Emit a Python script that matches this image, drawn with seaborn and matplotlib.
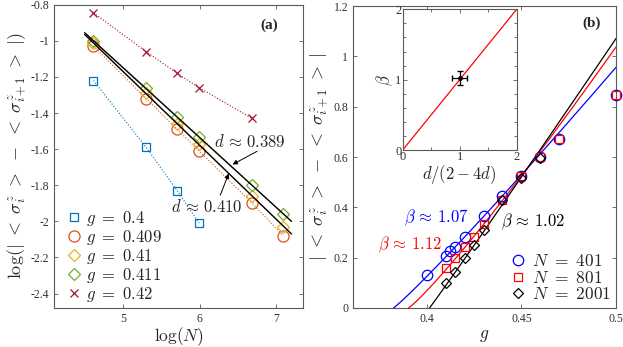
import numpy as np
import pandas as pd
import matplotlib
matplotlib.use("Agg")
import matplotlib.pyplot as plt
from matplotlib.lines import Line2D
import seaborn as sns

# panel (a): log(N) vs log of the staggered magnetisation difference
log_n = [4.615, 5.303, 5.707, 5.994, 6.686, 7.091]
g_labels_a = ["0.4", "0.409", "0.41", "0.411", "0.42"]
y_g400 = [-1.22, -1.59, -1.83, -2.01]
y_g409 = [-1.03, -1.32, -1.49, -1.61, -1.90, -2.08]
y_g410 = [-1.01, -1.29, -1.46, -1.57, -1.86, -2.03]
y_g411 = [-1.00, -1.26, -1.42, -1.53, -1.80, -1.96]
y_g420 = [-0.845, -1.06, -1.18, -1.26, -1.43]
fit_x = [4.5, 7.2]
fit_d389 = [-0.955, -2.000]
fit_d410 = [-0.965, -2.070]

# panel (b): order parameter vs g
g_401 = [0.40, 0.41, 0.4125, 0.415, 0.42, 0.43, 0.44, 0.45, 0.46, 0.47, 0.50]
m_401 = [0.132, 0.206, 0.225, 0.244, 0.282, 0.366, 0.447, 0.526, 0.60, 0.672, 0.845]
g_801 = [0.41, 0.415, 0.42, 0.425, 0.43, 0.44, 0.45, 0.46, 0.47, 0.50]
m_801 = [0.158, 0.198, 0.242, 0.284, 0.335, 0.431, 0.524, 0.60, 0.672, 0.845]
g_2001 = [0.41, 0.415, 0.42, 0.425, 0.43, 0.44, 0.45, 0.46]
m_2001 = [0.101, 0.145, 0.198, 0.251, 0.311, 0.431, 0.515, 0.597]
fit_gc = [0.3824, 0.3903, 0.4014]
fit_amp = [9.45, 12.33, 11.38]
fit_beta = [1.07, 1.12, 1.02]

# inset
inset_x = [1.0]
inset_y = [1.02]
inset_xerr = [0.13]
inset_yerr = [0.10]

sns.set_style("ticks")
plt.rcParams["font.family"] = ["Liberation Serif", "DejaVu Serif"]
plt.rcParams["mathtext.fontset"] = "cm"
plt.rcParams["xtick.direction"] = "in"
plt.rcParams["ytick.direction"] = "in"

spine_c = "#5a5a5a"
tick_c = "#303030"

fig = plt.figure(figsize=(6.23, 3.47), dpi=100)
ax1 = fig.add_axes([0.0867, 0.1124, 0.3997, 0.874])
ax2 = fig.add_axes([0.5666, 0.1124, 0.4222, 0.870])
ax3 = fig.add_axes([0.6464, 0.5677, 0.1830, 0.4055])


def style(ax, fs=8.5):
    for s in ax.spines.values():
        s.set_color(spine_c)
        s.set_linewidth(0.8)
    ax.tick_params(which="both", top=True, right=True, color=spine_c,
                   labelcolor=tick_c, labelsize=fs, length=3, width=0.6)


# ---- panel (a)
mat_cols = ["#0072BD", "#D95319", "#EDB120", "#77AC30", "#A2142F"]
series_a = [y_g400, y_g409, y_g410, y_g411, y_g420]
marks_a = ["s", "o", "D", "D", "x"]
sizes_a = [5.5, 8, 6, 6, 6]
handles_a = []
for yv, c, m, ms, lab in zip(series_a, mat_cols, marks_a, sizes_a, g_labels_a):
    xs = log_n[:len(yv)]
    sns.lineplot(x=xs, y=yv, ax=ax1, color=c, linestyle=":", lw=0.8,
                 marker=m, ms=ms, mfc="none", mec=c, mew=0.9)
    handles_a.append(Line2D([], [], ls="none", marker=m, ms=ms, mfc="none",
                            mec=c, mew=0.9, label=rf"$g\ =\ {lab}$"))
ax1.plot(fit_x, fit_d389, color="black", lw=1.0)
ax1.plot(fit_x, fit_d410, color="black", lw=1.0)
ax1.text(6.66, -1.566, r"$d\,\approx\,0.389$", fontsize=12, ha="center", va="center")
ax1.text(6.10, -1.925, r"$d\,\approx\,0.410$", fontsize=12, ha="center", va="center")
arrow = dict(arrowstyle="-|>", color="black", lw=0.7, mutation_scale=7,
             shrinkA=0, shrinkB=0)
ax1.annotate("", xy=(6.43, -1.685), xytext=(6.75, -1.612), arrowprops=arrow)
ax1.annotate("", xy=(6.38, -1.735), xytext=(6.27, -1.855), arrowprops=arrow)
ax1.text(0.863, 0.933, "(a)", transform=ax1.transAxes, fontsize=11,
         fontweight="bold", ha="center", va="center")
ax1.set_xlim(4.1, 7.35)
ax1.set_ylim(-2.48, -0.8)
ax1.set_xticks([5, 6, 7])
ax1.set_xticklabels(["5", "6", "7"])
yt = [-0.8, -1.0, -1.2, -1.4, -1.6, -1.8, -2.0, -2.2, -2.4]
ax1.set_yticks(yt)
ax1.set_yticklabels(["-0.8", "-1", "-1.2", "-1.4", "-1.6", "-1.8", "-2", "-2.2", "-2.4"])
ax1.set_xlabel(r"$\log(N)$", fontsize=12.5, labelpad=0)
ax1.set_ylabel(r"$\log(|\ <\ \sigma_i^z\ >\ -\ <\ \sigma_{i+1}^z\ >\ |)$",
               fontsize=13, labelpad=2)
style(ax1)
ax1.legend(handles=handles_a, loc="lower left", bbox_to_anchor=(0.03, 0.0),
           frameon=False, fontsize=12, handlelength=1.0, handletextpad=0.2,
           labelspacing=0.0, borderaxespad=0.1, borderpad=0.15)

# ---- panel (b)
cols_b = ["blue", "red", "black"]
data_b = [(g_401, m_401, "o", 7.5, "401"), (g_801, m_801, "s", 5.5, "801"),
          (g_2001, m_2001, "D", 5.0, "2001")]
handles_b = []
for (gx, my, m, ms, lab), c in zip(data_b, cols_b):
    sns.lineplot(x=gx, y=my, ax=ax2, ls="none", marker=m, ms=ms, mfc="none",
                 mec=c, mew=0.9, clip_on=False, zorder=3)
    handles_b.append(Line2D([], [], ls="none", marker=m, ms=ms, mfc="none",
                            mec=c, mew=0.9, label=rf"$N\ =\ {lab}$"))
for gc, amp, b, c in zip(fit_gc, fit_amp, fit_beta, cols_b):
    gg = np.linspace(gc, 0.5, 200)
    curve = pd.DataFrame({"g": gg, "m": amp * (gg - gc) ** b})
    sns.lineplot(data=curve, x="g", y="m", ax=ax2, color=c, lw=0.9)
ax2.text(0.4049, 0.359, r"$\beta\,\approx\,1.07$", color="blue", fontsize=12,
         ha="center", va="center")
ax2.text(0.3911, 0.251, r"$\beta\,\approx\,1.12$", color="red", fontsize=12,
         ha="center", va="center")
ax2.text(0.456, 0.344, r"$\beta\,\approx\,1.02$", color="black", fontsize=12,
         ha="center", va="center")
ax2.text(0.907, 0.944, "(b)", transform=ax2.transAxes, fontsize=11,
         fontweight="bold", ha="center", va="center")
ax2.set_xlim(0.361, 0.5)
ax2.set_ylim(0, 1.2)
ax2.set_xticks([0.4, 0.45, 0.5])
ax2.set_xticklabels(["0.4", "0.45", "0.5"])
ax2.set_yticks([0, 0.2, 0.4, 0.6, 0.8, 1.0, 1.2])
ax2.set_yticklabels(["0", "0.2", "0.4", "0.6", "0.8", "1", "1.2"])
ax2.set_xlabel(r"$g$", fontsize=12.5, labelpad=2)
ax2.set_ylabel(r"$|\ <\ \sigma_i^z\ >\ -\ <\ \sigma_{i+1}^z\ >\ |$", fontsize=13,
               labelpad=2)
style(ax2)
ax2.legend(handles=handles_b, loc="lower right", frameon=False, fontsize=12.5,
           handlelength=0.8, handletextpad=0.4, labelspacing=0.0,
           borderaxespad=0.1, borderpad=0.2)

# ---- inset
sns.lineplot(x=[0, 2], y=[0, 2], ax=ax3, color="red", lw=0.9)
ax3.errorbar(inset_x, inset_y, xerr=inset_xerr, yerr=inset_yerr, fmt="o",
             ms=2.5, color="black", lw=0.9, capsize=2)
ax3.set_xlim(0, 2)
ax3.set_ylim(0, 2)
ax3.set_xticks([0, 1, 2])
ax3.set_yticks([0, 1, 2])
ax3.set_xticks([0.5, 1.5], minor=True)
ax3.set_yticks(np.arange(0.2, 2.0, 0.2), minor=True)
ax3.set_xlabel(r"$d/(2-4d)$", fontsize=12, labelpad=0)
ax3.set_ylabel(r"$\beta$", fontsize=12, labelpad=0)
style(ax3, fs=9)
ax3.tick_params(which="both", pad=1)
ax3.tick_params(which="minor", length=2)

fig.savefig("out.png", dpi=100)
